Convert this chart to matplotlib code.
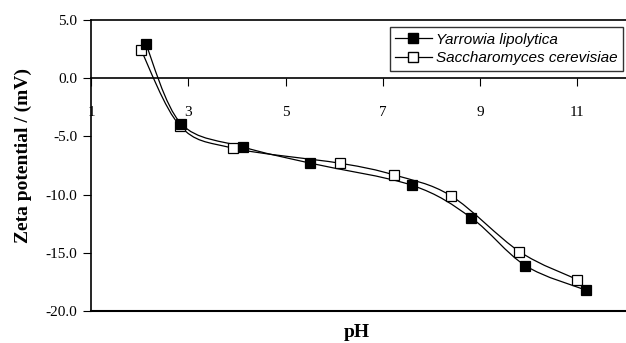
import numpy as np
import matplotlib.pyplot as plt
from matplotlib.path import Path
from matplotlib.patches import PathPatch
from matplotlib.lines import Line2D

plt.rcParams['axes.unicode_minus'] = False

# data
ph_yl = [2.13, 2.85, 4.12, 5.51, 7.60, 8.82, 9.93, 11.17]
zeta_yl = [2.9, -3.9, -5.9, -7.3, -9.2, -12.0, -16.1, -18.2]
ph_sc = [2.03, 2.83, 3.91, 6.11, 7.22, 8.40, 9.81, 11.00]
zeta_sc = [2.4, -4.1, -6.0, -7.3, -8.3, -10.1, -14.9, -17.3]
xticks = [1, 3, 5, 7, 9, 11]
yticks = [-20, -15, -10, -5, 0, 5]


def smooth_path(x, y):
    # excel-like smoothed line: bezier segments through every point
    p = np.column_stack([x, y])
    verts = [p[0]]
    codes = [Path.MOVETO]
    n = len(p)
    for i in range(n - 1):
        p0 = p[i - 1] if i > 0 else p[i]
        p3 = p[i + 2] if i + 2 < n else p[i + 1]
        c1 = p[i] + (p[i + 1] - p0) / 6
        c2 = p[i + 1] - (p3 - p[i]) / 6
        verts += [c1, c2, p[i + 1]]
        codes += [Path.CURVE4] * 3
    return Path(verts, codes)


fig = plt.figure(figsize=(6.26, 3.43), dpi=100)
ax = fig.add_axes([0.1454, 0.0933, 0.8546, 0.8484])

for x, y, fc in [(ph_sc, zeta_sc, 'white'), (ph_yl, zeta_yl, 'black')]:
    ax.add_patch(PathPatch(smooth_path(x, y), fill=False, ec='black', lw=0.9, zorder=2))
    ax.plot(x, y, ls='none', marker='s', ms=7 if fc == 'black' else 6.5,
            mfc=fc, mec='black', mew=0.9, zorder=3)

ax.set_xlim(1, 12)
ax.set_ylim(-20, 5)
ax.spines['bottom'].set_position(('data', 0))
ax.spines['right'].set_visible(False)
ax.axhline(-20, color='black', lw=1.5, clip_on=False)
for s in ['bottom', 'top', 'left']:
    ax.spines[s].set_linewidth(1.2)

ax.set_xticks(xticks)
ax.set_xticklabels([str(t) for t in xticks])
ax.set_yticks(yticks)
ax.set_yticklabels(['%.1f' % t for t in yticks])
ax.tick_params(axis='x', direction='out', length=6, pad=14, labelsize=11)
ax.tick_params(axis='y', direction='out', length=6, pad=4, labelsize=11)
for lab in ax.get_xticklabels() + ax.get_yticklabels():
    lab.set_family('Liberation Serif')

fig.text(0.038, 0.548, 'Zeta potential / (mV)', rotation=90, ha='center', va='center',
         family='Liberation Serif', weight='bold', fontsize=14)
fig.text(0.570, 0.032, 'pH', ha='center', va='center',
         family='Liberation Serif', weight='bold', fontsize=14)

handles = [Line2D([], [], color='black', lw=0.9, marker='s', ms=7, mfc='black', mec='black'),
           Line2D([], [], color='black', lw=0.9, marker='s', ms=6.5, mfc='white', mec='black')]
leg = ax.legend(handles, ['Yarrowia lipolytica', 'Saccharomyces cerevisiae'],
                loc='upper right', bbox_to_anchor=(0.995, 0.975), frameon=True, fancybox=False,
                edgecolor='black', handlelength=2.4, handletextpad=0.3, borderpad=0.35,
                labelspacing=0.3, borderaxespad=0,
                prop={'family': 'Liberation Sans', 'style': 'italic', 'size': 11})
leg.get_frame().set_linewidth(1.0)

fig.savefig('out.png', dpi=100)
